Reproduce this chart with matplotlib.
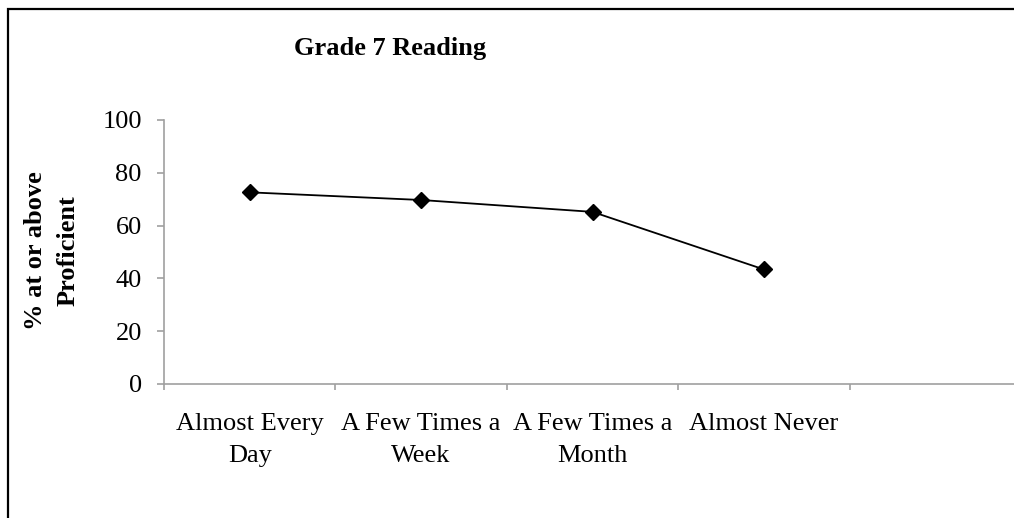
import matplotlib
matplotlib.use('Agg')
import matplotlib.pyplot as plt
from matplotlib.patches import Rectangle

categories = ['Almost Every\nDay', 'A Few Times a\nWeek', 'A Few Times a\nMonth', 'Almost Never']
pct_proficient = [72.6, 69.7, 65.2, 43.4]
yticks = [0, 20, 40, 60, 80, 100]

plt.rcParams['font.family'] = ['Liberation Serif', 'DejaVu Serif']

W, H = 1014, 518
fig = plt.figure(figsize=(W / 100, H / 100), dpi=100)
fig.patch.set_facecolor('white')

# outer chart frame (right and bottom edges fall outside the picture)
fig.patches.append(Rectangle((8 / W, -0.1), 1.2, 1 - 9 / H + 0.1, transform=fig.transFigure,
                             fill=False, edgecolor='black', linewidth=1.6))

ax = fig.add_axes([164 / W, (H - 384) / H, (1021 - 164) / W, 264 / H])
x = list(range(len(categories)))
ax.plot(x, pct_proficient, color='black', linewidth=1.3, marker='D', markersize=8.5,
        markerfacecolor='black', markeredgecolor='black', clip_on=False)

ax.set_xlim(-0.5, 4.5)
ax.set_ylim(0, 100)
ax.set_yticks(yticks)
ax.set_yticklabels([str(v) for v in yticks])
ax.set_xticks(x)
ax.set_xticklabels(categories, linespacing=1.58)
ax.set_xticks([i - 0.5 for i in range(6)], minor=True)

axis_col = '#a0a0a0'
for s in ['top', 'right']:
    ax.spines[s].set_visible(False)
for s in ['left', 'bottom']:
    ax.spines[s].set_color(axis_col)
    ax.spines[s].set_linewidth(1.2)

ax.tick_params(axis='x', which='major', length=0, pad=21, labelsize=19)
ax.tick_params(axis='x', which='minor', length=4, width=1.2, color=axis_col, direction='out')
ax.tick_params(axis='y', length=5, width=1.2, color=axis_col, direction='out', pad=11, labelsize=19)

fig.text(390 / W, 1 - 55 / H, 'Grade 7 Reading', ha='center', va='baseline',
         fontsize=19, fontweight='bold')
fig.text(52 / W, 1 - 251 / H, '% at or above\nProficient', ha='center', va='center',
         rotation=90, multialignment='center', fontsize=19, fontweight='bold', linespacing=1.55)

fig.savefig('out.png', dpi=100)
